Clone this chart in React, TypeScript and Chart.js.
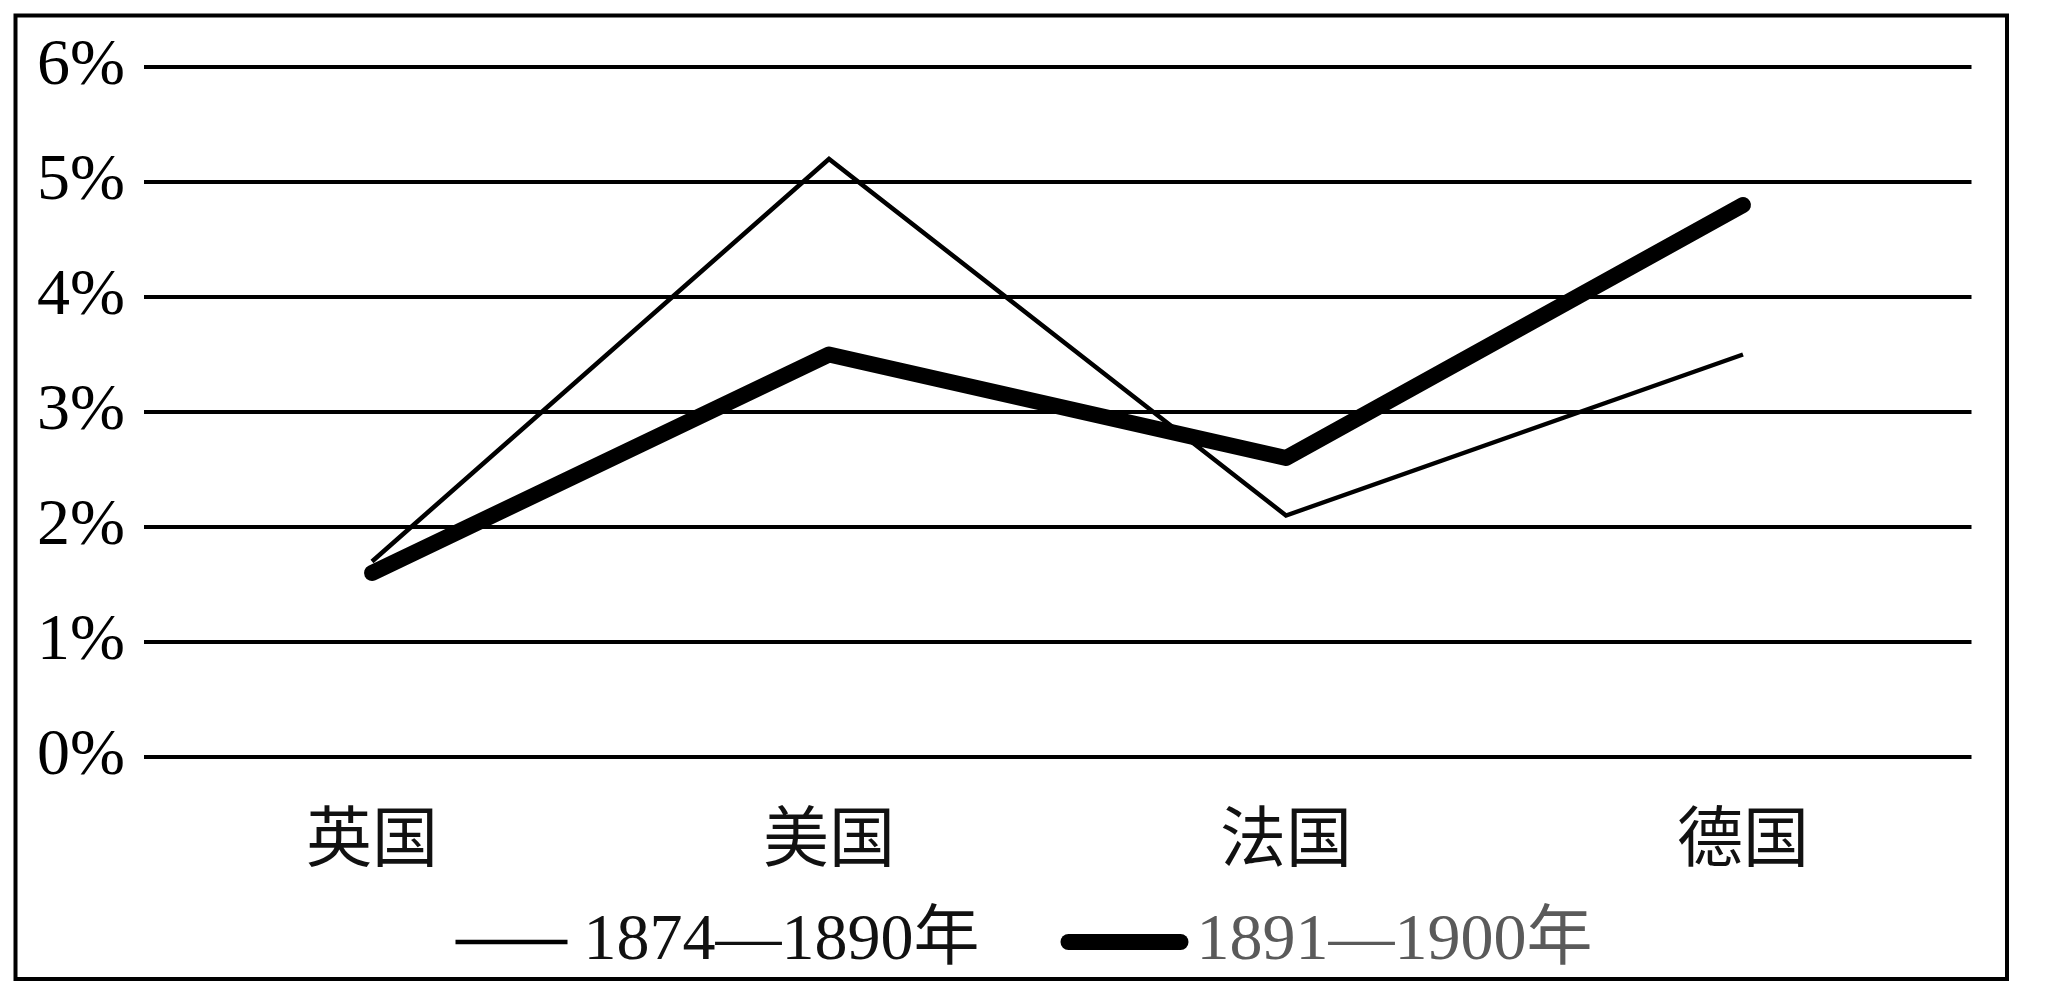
import React, { useEffect, useRef } from 'react';
import { Chart, registerables } from 'chart.js';

Chart.register(...registerables);

const categories = ['英国', '美国', '法国', '德国'];
const series1874to1890 = [1.7, 5.2, 2.1, 3.5];
const series1891to1900 = [1.6, 3.5, 2.6, 4.8];
const seriesLabels = ['1874—1890年', '1891—1900年'];
const yTickLabels = ['0%', '1%', '2%', '3%', '4%', '5%', '6%'];
const legendTextColors = ['#111111', '#5a5a5a'];

const FONT = "'Liberation Serif', 'Times New Roman', 'Noto Sans CJK SC', serif";
const FONT_SIZE = 66;

const framePlugin = {
  id: 'frame',
  beforeDraw(chart: any) {
    const ctx = chart.ctx;
    ctx.save();
    ctx.fillStyle = '#ffffff';
    ctx.fillRect(0, 0, chart.width, chart.height);
    ctx.restore();
  },
  afterDraw(chart: any) {
    const ctx = chart.ctx;
    ctx.save();
    ctx.strokeStyle = '#000000';
    ctx.lineWidth = 4;
    ctx.strokeRect(15.5, 15.5, chart.width - 15.5 - 43, chart.height - 15.5 - 11);
    ctx.restore();
  },
};

const legendPlugin = {
  id: 'customLegend',
  afterDraw(chart: any) {
    const ctx = chart.ctx;
    ctx.save();
    ctx.font = `${FONT_SIZE}px ${FONT}`;
    const marker = 112;
    const gapText = 16;
    const gapItem = 89;
    const items = chart.data.datasets.map((ds: any, i: number) => ({
      ds,
      w: ctx.measureText(ds.label).width,
      color: legendTextColors[i],
    }));
    const total =
      items.reduce((s: number, it: any) => s + marker + gapText + it.w, 0) +
      gapItem * (items.length - 1);
    let x = chart.width / 2 - 1 - total / 2;
    const yLine = chart.height - 48;
    const yBase = chart.height - 31;
    items.forEach((it: any) => {
      ctx.beginPath();
      ctx.strokeStyle = it.ds.borderColor;
      ctx.lineWidth = it.ds.borderWidth;
      ctx.lineCap = it.ds.borderCapStyle;
      ctx.moveTo(x, yLine);
      ctx.lineTo(x + marker, yLine);
      ctx.stroke();
      x += marker + gapText;
      ctx.fillStyle = it.color;
      ctx.textAlign = 'left';
      ctx.textBaseline = 'alphabetic';
      ctx.fillText(it.ds.label, x, yBase);
      x += it.w + gapItem;
    });
    ctx.restore();
  },
};

export default function App() {
  const ref = useRef<HTMLCanvasElement>(null);

  useEffect(() => {
    if (!ref.current) return;
    const chart = new Chart(ref.current, {
      type: 'line',
      data: {
        labels: categories,
        datasets: [
          {
            label: seriesLabels[0],
            data: series1874to1890,
            borderColor: '#000000',
            backgroundColor: '#000000',
            borderWidth: 4.5,
            borderCapStyle: 'butt',
            borderJoinStyle: 'miter',
            pointRadius: 0,
            tension: 0,
            order: 1,
          },
          {
            label: seriesLabels[1],
            data: series1891to1900,
            borderColor: '#000000',
            backgroundColor: '#000000',
            borderWidth: 16,
            borderCapStyle: 'round',
            borderJoinStyle: 'round',
            pointRadius: 0,
            tension: 0,
            order: 0,
          },
        ],
      },
      options: {
        animation: false,
        responsive: false,
        devicePixelRatio: 1,
        layout: { padding: { top: 67, left: 0, right: 78.5, bottom: 103 } },
        plugins: {
          legend: { display: false },
          tooltip: { enabled: false },
        },
        scales: {
          x: {
            offset: true,
            grid: { display: false, drawTicks: false },
            border: { display: false },
            ticks: {
              padding: 47,
              maxRotation: 0,
              color: '#111111',
              font: { family: FONT, size: FONT_SIZE, lineHeight: 1.2 },
            },
            afterFit: (s: any) => {
              s.height = 130;
            },
          },
          y: {
            min: 0,
            max: 6,
            grid: { color: '#000000', lineWidth: 4, drawTicks: false },
            border: { display: false },
            ticks: {
              stepSize: 1,
              padding: 18.5,
              color: '#000000',
              font: { family: FONT, size: FONT_SIZE, lineHeight: 1.2 },
              callback: (_v: any, i: number) => yTickLabels[i],
            },
            afterFit: (s: any) => {
              s.width = 143.5;
            },
          },
        },
      } as any,
      plugins: [framePlugin, legendPlugin],
    });
    return () => chart.destroy();
  }, []);

  return (
    <div style={{ position: 'absolute', left: 0, top: 0, width: 2050, height: 990 }}>
      <canvas ref={ref} width={2050} height={990} style={{ display: 'block' }} />
    </div>
  );
}
